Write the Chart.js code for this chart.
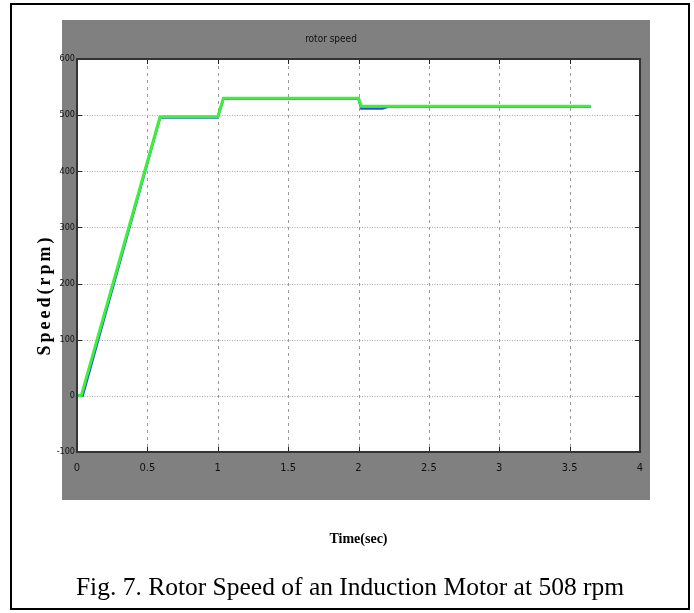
<!DOCTYPE html>
<html>
<head>
<meta charset="utf-8">
<script src="https://cdn.jsdelivr.net/npm/chart.js@4"></script>
<style>
  body { margin: 0; background: #fff; }
  #wrap { position: relative; width: 694px; height: 613px; }
  #frame { position: absolute; left: 10px; top: 3px; width: 676px; height: 603px; border: 2px solid #000; }
  #gray { position: absolute; left: 62px; top: 20px; width: 588px; height: 480px; background: #808080; }
  #speed { position: absolute; left: 0; top: 0; }
  #caption { position: absolute; left: 0; width: 700px; top: 572px; text-align: center;
             font-family: "Liberation Serif", "Times New Roman", serif; font-size: 25.5px; color: #000; }
</style>
</head>
<body>
<div id="wrap">
  <div id="frame"></div>
  <div id="gray"></div>
  <canvas id="speed" width="694" height="613"></canvas>
  <div id="caption">Fig. 7. Rotor Speed of an Induction Motor at 508 rpm</div>
</div>
<script>
// measured rotor speed (green)
var timeMeas = [0, 0.03, 0.59, 1.0, 1.04, 2.0, 2.02, 3.65];
var speedMeas = [0, 0, 497, 497, 530, 530, 516, 516];
// reference trace (blue), mostly hidden under the green one
var timeRef = [0, 0.04, 0.59, 1.0, 1.04, 2.0, 2.02, 2.17, 2.21, 3.65];
var speedRef = [0, 0, 496, 496, 529, 529, 512, 512, 515, 515];

var xTicks = [0, 0.5, 1, 1.5, 2, 2.5, 3, 3.5, 4];
var tickFont = "DejaVu Sans Condensed";

function pts(t, v) {
    return t.map(function (x, i) { return { x: x, y: v[i] }; });
}

// white plot area, matlab-style dashed/dotted grid, frame and y label
var plotBox = {
    id: "plotBox",
    beforeDraw: function (chart) {
        var a = chart.chartArea, ctx = chart.ctx;
        ctx.save();
        ctx.fillStyle = "#ffffff";
        ctx.fillRect(a.left, a.top, a.right - a.left, a.bottom - a.top);
        ctx.restore();
    },
    beforeDatasetsDraw: function (chart) {
        var a = chart.chartArea, ctx = chart.ctx;
        var xs = chart.scales.x, ys = chart.scales.y;
        ctx.save();
        ctx.lineWidth = 1;
        ctx.strokeStyle = "#9a9a9a";
        ctx.setLineDash([3, 4]);
        xs.ticks.forEach(function (t) {
            var px = Math.round(xs.getPixelForValue(t.value)) + 0.5;
            ctx.beginPath(); ctx.moveTo(px, a.top); ctx.lineTo(px, a.bottom); ctx.stroke();
        });
        ctx.strokeStyle = "#a8a8a8";
        ctx.setLineDash([1, 1.5]);
        ys.ticks.forEach(function (t) {
            var py = Math.round(ys.getPixelForValue(t.value)) + 0.5;
            ctx.beginPath(); ctx.moveTo(a.left, py); ctx.lineTo(a.right, py); ctx.stroke();
        });
        ctx.setLineDash([]);
        ctx.strokeStyle = "#222";
        ys.ticks.forEach(function (t) {
            var py = Math.round(ys.getPixelForValue(t.value)) + 0.5;
            ctx.beginPath(); ctx.moveTo(a.left, py); ctx.lineTo(a.left + 5, py); ctx.stroke();
            ctx.beginPath(); ctx.moveTo(a.right - 5, py); ctx.lineTo(a.right, py); ctx.stroke();
        });
        xs.ticks.forEach(function (t) {
            var px = Math.round(xs.getPixelForValue(t.value)) + 0.5;
            ctx.beginPath(); ctx.moveTo(px, a.bottom); ctx.lineTo(px, a.bottom - 5); ctx.stroke();
            ctx.beginPath(); ctx.moveTo(px, a.top); ctx.lineTo(px, a.top + 5); ctx.stroke();
        });
        ctx.restore();
    },
    afterDraw: function (chart) {
        var a = chart.chartArea, ctx = chart.ctx;
        ctx.save();
        ctx.strokeStyle = "#333";
        ctx.lineWidth = 2;
        ctx.strokeRect(a.left, a.top, a.right - a.left, a.bottom - a.top);
        ctx.translate(45, 295);
        ctx.rotate(-Math.PI / 2);
        ctx.font = "bold 18px 'Liberation Serif', serif";
        if ("letterSpacing" in ctx) ctx.letterSpacing = "3px";
        ctx.fillStyle = "#000";
        ctx.textAlign = "center";
        ctx.textBaseline = "middle";
        ctx.fillText("Speed(rpm)", 0, 0);
        ctx.restore();
    }
};

new Chart("speed", {
    type: "line",
    data: {
        datasets: [{
            label: "speed",
            data: pts(timeMeas, speedMeas),
            borderColor: "#3cf03c",
            borderWidth: 3,
            pointRadius: 0,
            tension: 0,
            order: 1
        }, {
            label: "reference",
            data: pts(timeRef, speedRef),
            borderColor: "#2f4fd0",
            borderWidth: 2.5,
            pointRadius: 0,
            tension: 0,
            order: 2
        }]
    },
    options: {
        responsive: false,
        animation: false,
        layout: { padding: { left: 22, right: 54, top: 30, bottom: 61 } },
        plugins: {
            legend: { display: false },
            tooltip: { enabled: false },
            title: {
                display: true,
                text: "rotor speed",
                color: "#111",
                font: { family: tickFont, size: 10, weight: "normal" },
                padding: { top: 3, bottom: 14 }
            }
        },
        scales: {
            x: {
                type: "linear",
                min: 0,
                max: 4,
                afterBuildTicks: function (s) { s.ticks = xTicks.map(function (v) { return { value: v }; }); },
                afterFit: function (s) { s.height = 100; },
                grid: { display: false, drawTicks: false },
                border: { display: false },
                ticks: {
                    color: "#111",
                    padding: 10,
                    maxRotation: 0,
                    font: { family: tickFont, size: 11 },
                    callback: function (v) { return String(v); }
                },
                title: {
                    display: true,
                    text: "Time(sec)",
                    color: "#000",
                    font: { family: "Liberation Serif", size: 14, weight: "bold" },
                    padding: { top: 0, bottom: 4 }
                }
            },
            y: {
                min: -100,
                max: 600,
                afterFit: function (s) { s.width = 55; },
                grid: { display: false, drawTicks: false },
                border: { display: false },
                ticks: {
                    stepSize: 100,
                    color: "#111",
                    padding: 2,
                    font: { family: tickFont, size: 9 }
                }
            }
        }
    },
    plugins: [plotBox]
});
</script>
</body>
</html>
